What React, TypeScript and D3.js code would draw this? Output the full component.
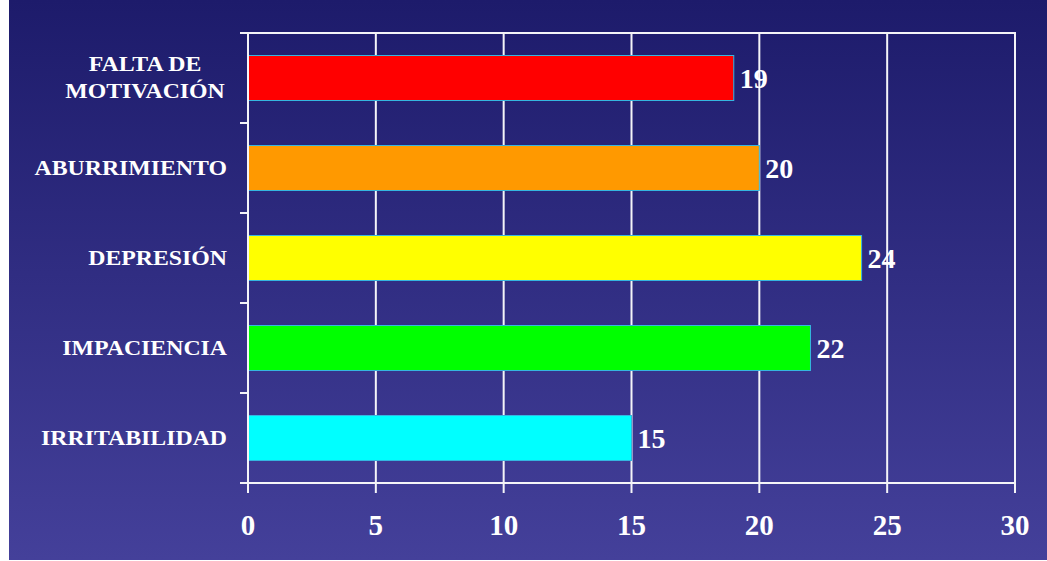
import React from "react";
import * as d3 from "d3";

const categories = ["FALTA DE\nMOTIVACIÓN", "ABURRIMIENTO", "DEPRESIÓN", "IMPACIENCIA", "IRRITABILIDAD"];
const values = [19, 20, 24, 22, 15];
const colors = ["#ff0000", "#ff9900", "#ffff00", "#00ff00", "#00ffff"];
const xTicks = [0, 5, 10, 15, 20, 25, 30];

const W = 1047;
const H = 561;
const left = 248;
const right = 1015;
const top = 33;
const bottom = 483;

export default function App() {
  const x = d3.scaleLinear().domain([0, 30]).range([left, right]);
  const y = d3.scaleBand().domain(categories).range([top, bottom]).paddingInner(0.5).paddingOuter(0.25);
  const step = y.step();
  const boundaries = d3.range(categories.length + 1).map((i) => top + i * step);
  const serif = "'Liberation Serif', 'Times New Roman', serif";
  const line = "#f4f4f8";
  const sx = 1.19;

  return (
    <div style={{ position: "absolute", left: 0, top: 0 }}>
      <svg width={W} height={H} style={{ display: "block" }}>
        <defs>
          <linearGradient id="bg" x1="0" y1="0" x2="0" y2="1">
            <stop offset="0" stopColor="#1d1b6b" />
            <stop offset="1" stopColor="#44409a" />
          </linearGradient>
        </defs>
        <rect x={0} y={0} width={W} height={H} fill="#ffffff" />
        <rect x={9} y={0} width={W - 9} height={H - 1} fill="url(#bg)" />

        {/* vertical gridlines and x ticks */}
        {xTicks.map((t) => (
          <line key={"g" + t} x1={x(t)} x2={x(t)} y1={top} y2={bottom + 10} stroke={line} strokeWidth={2} />
        ))}
        {/* top border */}
        <line x1={left - 8} x2={right + 1} y1={top} y2={top} stroke={line} strokeWidth={2} />
        {/* bottom axis */}
        <line x1={left - 8} x2={right + 1} y1={bottom} y2={bottom} stroke={line} strokeWidth={2} />
        {/* y ticks */}
        {boundaries.map((b, i) => (
          <line key={"yt" + i} x1={left - 8} x2={left} y1={b} y2={b} stroke={line} strokeWidth={2} />
        ))}

        {/* bars */}
        {categories.map((c, i) => (
          <rect
            key={c}
            x={x(0)}
            y={y(c)}
            width={x(values[i]) - x(0)}
            height={y.bandwidth()}
            fill={colors[i]}
            stroke="#35b6e0"
            strokeWidth={1}
          />
        ))}
        <line x1={left} x2={left} y1={top} y2={bottom + 10} stroke={line} strokeWidth={2} />

        {/* value labels */}
        {categories.map((c, i) => (
          <text
            key={"v" + c}
            x={x(values[i]) + 6}
            y={(y(c) as number) + y.bandwidth() / 2}
            dy="0.36em"
            fill="#ffffff"
            fontFamily={serif}
            fontWeight="bold"
            fontSize={28}
          >
            {values[i]}
          </text>
        ))}

        {/* category labels */}
        {categories.map((c, i) => {
          const lines = c.split("\n");
          const cy = (y(c) as number) + y.bandwidth() / 2;
          const lh = 27;
          const multi = lines.length > 1;
          const ax = multi ? 145 : 227;
          return (
            <g key={"c" + c} transform={`translate(${ax},${cy}) scale(${sx},1)`}>
              <text
                textAnchor={multi ? "middle" : "end"}
                fill="#ffffff"
                fontFamily={serif}
                fontWeight="bold"
                fontSize={20}
              >
                {lines.map((l, j) => (
                  <tspan key={j} x={0} y={(j - (lines.length - 1) / 2) * lh} dy="0.34em">
                    {l}
                  </tspan>
                ))}
              </text>
            </g>
          );
        })}

        {/* x tick labels */}
        {xTicks.map((t) => (
          <text
            key={"xl" + t}
            x={x(t)}
            y={535}
            textAnchor="middle"
            fill="#ffffff"
            fontFamily={serif}
            fontWeight="bold"
            fontSize={29}
          >
            {t}
          </text>
        ))}
      </svg>
    </div>
  );
}
